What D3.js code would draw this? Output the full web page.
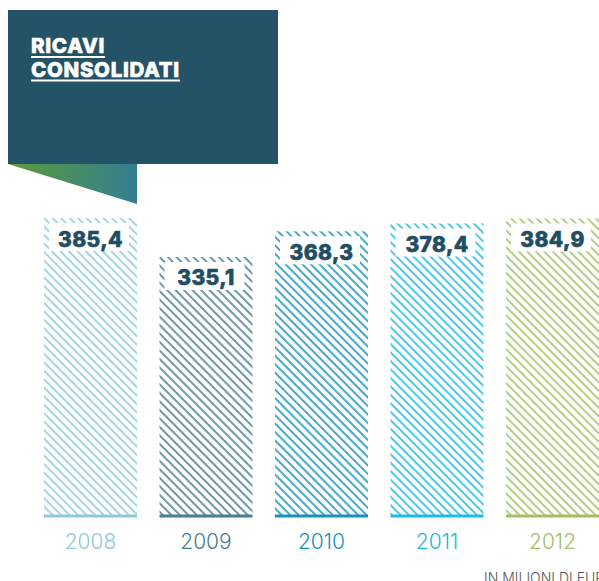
<!DOCTYPE html>
<html>
<head>
<meta charset="utf-8">
<script src="https://cdn.jsdelivr.net/npm/d3@7"></script>
<style>
  html, body { margin: 0; padding: 0; background: #fff; }
  svg { display: block; }
</style>
</head>
<body>
<svg id="chart" width="599" height="581"></svg>
<script>
const years = ['2008', '2009', '2010', '2011', '2012'];
const revenues = [385.4, 335.1, 368.3, 378.4, 384.9];
const barColors = ['#8fcadb', '#487d92', '#1793b9', '#22b8e8', '#a0c265'];
const titleLines = ['RICAVI', 'CONSOLIDATI'];
const unitLabel = 'IN MILIONI DI EURO';

const width = 599;
const height = 581;
const svg = d3.select('#chart');
const defs = svg.append('defs');

const x = d3.scaleBand().domain(years).range([44, 599]).paddingInner(0.195).paddingOuter(0);
const y = d3.scaleLinear().domain([0, 400]).range([516, 206.8]);
const fmt = (v) => d3.format('.1f')(v).replace('.', ',');

// Header block + gradient flap
const grad = defs.append('linearGradient').attr('id', 'flap').attr('x1', 0).attr('x2', 1).attr('y1', 0).attr('y2', 0);
grad.append('stop').attr('offset', '0%').attr('stop-color', '#5d9b38');
grad.append('stop').attr('offset', '100%').attr('stop-color', '#337e92');

svg.append('rect').attr('x', 8).attr('y', 10).attr('width', 270).attr('height', 154).attr('fill', '#245266');
svg.append('path').attr('d', 'M8,164 L137,164 L137,204 Z').attr('fill', 'url(#flap)');

const title = svg.append('g');
titleLines.forEach((line, i) => {
  const t = title.append('text')
    .attr('x', 31)
    .attr('y', 53 + i * 23.5)
    .attr('fill', '#fff')
    .attr('stroke', '#fff')
    .attr('stroke-width', 0.6)
    .attr('font-family', 'Inter, Roboto, sans-serif')
    .attr('font-weight', 800)
    .attr('font-size', 20.5)
    .attr('letter-spacing', 0.7)
    .text(line);
  const w = t.node().getComputedTextLength();
  title.append('rect')
    .attr('x', 31).attr('y', 56 + i * 23.5)
    .attr('width', w).attr('height', 2)
    .attr('fill', '#fff');
});

// Hatch patterns, one per bar colour
barColors.forEach((c, i) => {
  const p = defs.append('pattern')
    .attr('id', `hatch${i}`)
    .attr('patternUnits', 'userSpaceOnUse')
    .attr('width', 6).attr('height', 6)
    .attr('patternTransform', 'rotate(45)');
  p.append('line')
    .attr('x1', 0).attr('y1', 3).attr('x2', 6).attr('y2', 3)
    .attr('stroke', c).attr('stroke-width', 1.6);
});

const bars = svg.append('g').selectAll('g')
  .data(years.map((yr, i) => ({ yr, v: revenues[i], i })))
  .join('g');

bars.append('rect')
  .attr('x', (d) => x(d.yr))
  .attr('y', (d) => y(d.v))
  .attr('width', x.bandwidth())
  .attr('height', (d) => y(0) - y(d.v))
  .attr('fill', (d) => `url(#hatch${d.i})`);

bars.append('rect')
  .attr('x', (d) => x(d.yr))
  .attr('y', y(0) - 1.5)
  .attr('width', x.bandwidth())
  .attr('height', 3)
  .attr('fill', (d) => barColors[d.i]);

// white label box on top of each bar
bars.append('rect')
  .attr('x', (d) => x(d.yr) + 5)
  .attr('y', (d) => y(d.v) + 5)
  .attr('width', x.bandwidth() - 13)
  .attr('height', 28)
  .attr('fill', '#fff');

bars.append('text')
  .attr('x', (d) => x(d.yr) + x.bandwidth() / 2)
  .attr('y', (d) => y(d.v) + 28.5)
  .attr('text-anchor', 'middle')
  .attr('fill', '#1f4e63')
  .attr('stroke', '#1f4e63')
  .attr('stroke-width', 0.6)
  .attr('font-family', 'Inter, Roboto, sans-serif')
  .attr('font-weight', 800)
  .attr('font-size', 21)
  .attr('letter-spacing', 0.4)
  .text((d) => fmt(d.v));

bars.append('text')
  .attr('x', (d) => x(d.yr) + x.bandwidth() / 2)
  .attr('y', 549)
  .attr('text-anchor', 'middle')
  .attr('fill', (d) => barColors[d.i])
  .attr('font-family', 'Inter, Roboto, sans-serif')
  .attr('font-weight', 300)
  .attr('font-size', 21)
  .text((d) => d.yr);

svg.append('text')
  .attr('x', 484)
  .attr('y', 583)
  .attr('fill', '#555')
  .attr('font-family', 'Inter, Roboto, sans-serif')
  .attr('font-weight', 300)
  .attr('font-size', 14)
  .text(unitLabel);
</script>
</body>
</html>
